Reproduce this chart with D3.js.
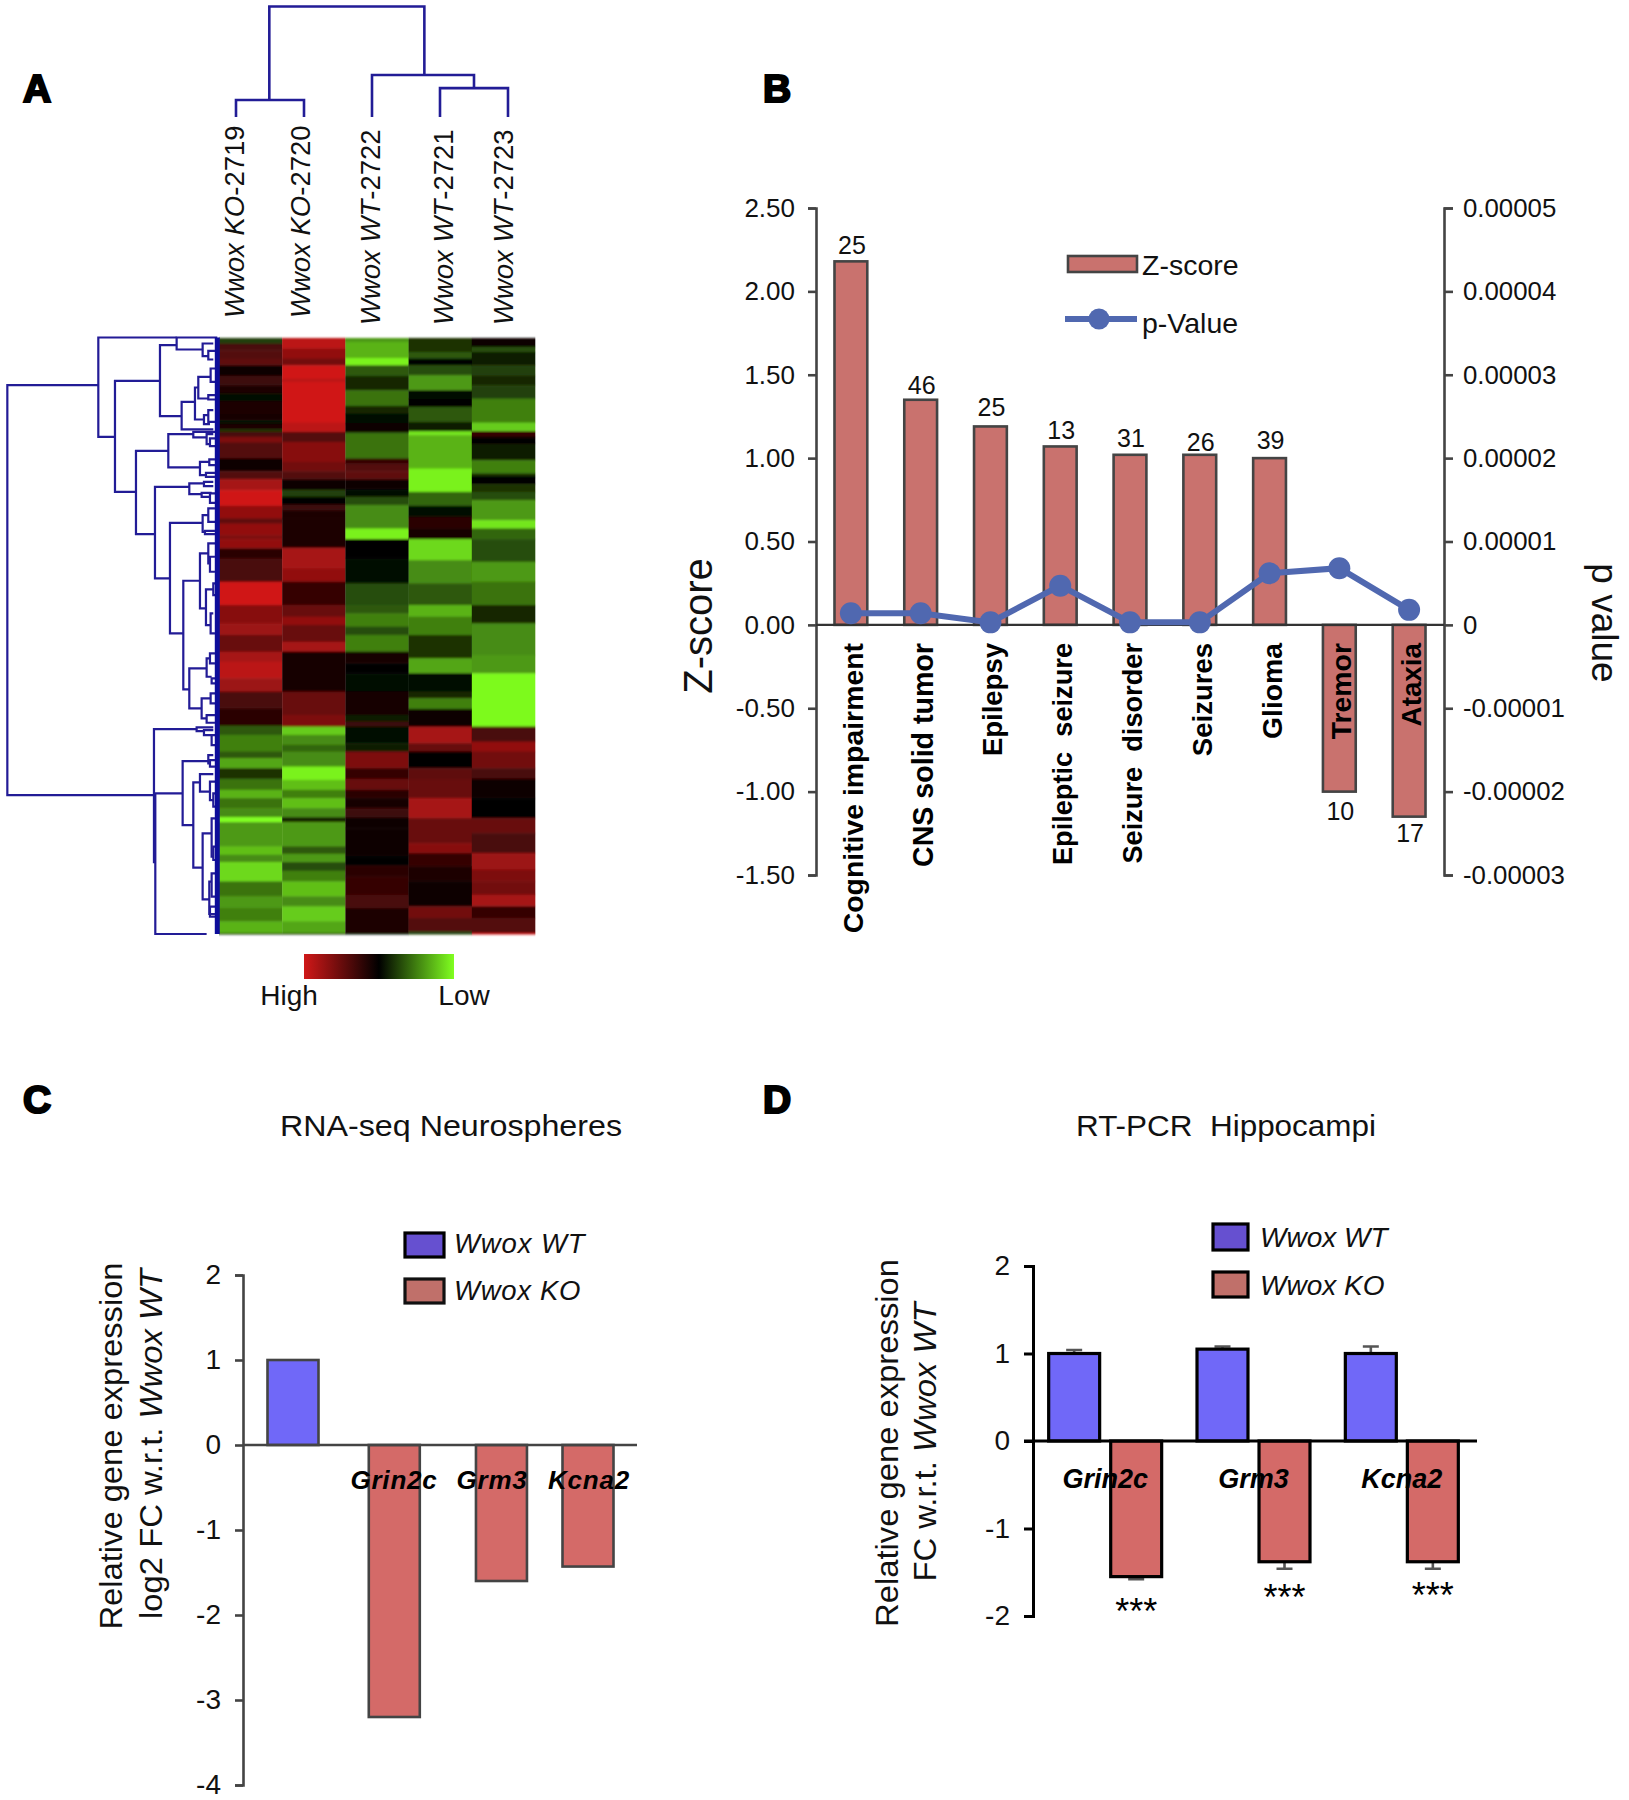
<!DOCTYPE html>
<html><head><meta charset="utf-8">
<script src="https://cdn.jsdelivr.net/npm/d3@7"></script>
<style>
html,body{margin:0;padding:0;background:#fff}
svg{display:block}
text{font-family:"Liberation Sans",Arial,sans-serif;fill:#111}
</style></head><body>
<svg id="c" width="1629" height="1800"></svg>
<script>
// ---------- Panel A data ----------
const sampleNames = [["Wwox"," KO","-2719"],["Wwox"," KO","-2720"],["Wwox"," WT","-2722"],["Wwox"," WT","-2721"],["Wwox"," WT","-2723"]];
// run-length expression values for each sample: [last row of band, value]
const heatKO2719 = [[25,-.25],[45,.35],[70,.4],[90,.45],[122,.08],[150,.3],[175,.15],[197,-.05],[235,.15],[255,.1],[265,-.05],[282,.15],[290,-.2],[305,.35],[322,.6],[370,.4],[408,.04],[432,.4],[465,.8],[512,1],[550,.7],[565,.45],[600,.7],[612,.6],[640,.7],[670,.2],[695,.35],[740,.35],[810,1],[865,.65],[900,.75],[950,.5],[980,.8],[1030,.9],[1070,.75],[1120,.35],[1172,.2],[1200,-.35],[1250,-.5],[1270,-.35],[1300,-.65],[1332,-.2],[1365,-.45],[1390,-.7],[1420,-.45],[1447,-.55],[1462,-1],[1535,-.6],[1560,-.75],[1582,-.55],[1640,-.85],[1685,-.45],[1720,-.6],[1760,-.5],[1795,-.7],[1798,-.2]];
const heatKO2720 = [[40,.9],[70,.7],[90,.55],[130,1],[140,.9],[262,1],[290,.9],[320,.4],[380,.65],[408,.55],[432,.4],[465,.05],[485,-.25],[508,-.02],[525,.3],[550,.15],[638,.15],[700,.8],[740,.7],[810,.25],[845,.5],[870,.7],[920,.5],[950,.8],[1070,.12],[1140,.5],[1175,.6],[1200,-.8],[1230,-.55],[1250,-.4],[1295,-.55],[1335,-.95],[1365,-.75],[1390,-.5],[1420,-.75],[1447,-.55],[1462,-.15],[1535,-.6],[1557,-.35],[1582,-.6],[1608,-.3],[1640,-.5],[1685,-.75],[1715,-.55],[1760,-.8],[1795,-.65],[1798,-.2]];
const heatWT2722 = [[20,-.6],[68,-.7],[90,-.95],[122,-.35],[165,-.15],[212,-.45],[235,-.15],[265,-.03],[292,.08],[370,-.45],[385,.25],[408,.4],[432,.45],[462,.08],[485,-.03],[510,-.3],[580,-.55],[612,-.95],[670,.02],[745,-.04],[810,-.3],[835,-.35],[875,-.5],[900,-.3],[950,-.5],[985,.12],[1015,.01],[1070,-.03],[1140,.12],[1160,-.1],[1175,.3],[1225,-.03],[1250,-.12],[1300,.6],[1332,.25],[1365,.5],[1390,.2],[1420,.1],[1447,.3],[1480,.07],[1565,.04],[1592,.03],[1625,.2],[1680,.25],[1720,.35],[1795,.15],[1798,-.1]];
const heatWT2721 = [[50,-.2],[70,-.35],[90,0],[120,-.3],[165,-.6],[190,-.05],[215,-.02],[260,-.35],[288,-.1],[300,-.9],[400,-.7],[470,-.95],[512,-.4],[545,-.03],[580,.2],[612,.1],[675,-.85],[745,-.55],[810,-.35],[845,-.7],[900,-.5],[970,-.2],[1015,-.65],[1070,-.03],[1090,-.15],[1122,-.5],[1175,.04],[1225,.8],[1250,.5],[1300,.02],[1332,.45],[1390,.5],[1450,.8],[1525,.5],[1555,.65],[1595,.25],[1640,.15],[1715,.04],[1750,.55],[1790,.4],[1798,-.25]];
const heatWT2723 = [[35,.08],[50,-.3],[90,-.1],[120,-.25],[150,-.15],[190,-.25],[262,-.5],[288,-.8],[305,.25],[325,.03],[375,-.1],[415,-.5],[425,-.15],[447,.03],[470,-.2],[495,-.3],[555,-.6],[580,-.9],[612,-.4],[680,-.3],[740,-.6],[810,-.45],[865,-.15],[960,-.55],[1015,-.6],[1175,-.98],[1220,.35],[1250,.7],[1300,.55],[1332,.35],[1390,.05],[1450,.02],[1495,.5],[1555,.35],[1605,.75],[1640,.6],[1680,.55],[1715,.8],[1750,.25],[1795,.4],[1798,1]];
const heatColumns = [heatKO2719, heatKO2720, heatWT2722, heatWT2721, heatWT2723];
// row dendrogram merges: [bar depth, upper row, upper child depth, lower row, lower child depth]
const rowMerges = [[22,165,295,1395,462],[295,22,530,320,345],[345,152,480,485,408],[480,45,530,258,545],[530,22,652,58,608],[608,40,640,78,625],[625,62,645,88,640],[545,215,585,298,640],[585,172,595,268,612],[595,140,632,205,625],[632,115,652,155,652],[625,195,645,208,645],[612,255,625,282,630],[625,240,640,275,645],[408,362,505,612,465],[505,312,580,412,600],[580,305,652,322,620],[620,312,640,342,630],[630,325,650,348,650],[600,395,628,435,618],[628,388,645,405,645],[618,428,645,440,645],[465,470,568,745,510],[568,460,612,492,605],[612,455,640,468,640],[605,488,635,500,630],[630,490,650,518,650],[510,578,608,910,550],[608,555,625,605,615],[625,535,645,575,650],[615,602,645,612,645],[550,752,600,1078,568],[600,670,625,835,618],[625,640,650,700,630],[630,680,645,725,645],[618,778,640,885,632],[640,760,650,795,650],[632,850,640,910,645],[568,1015,620,1135,605],[620,985,630,1040,635],[630,970,645,1000,645],[635,1045,650,1060,650],[605,1105,632,1165,620],[632,1090,650,1120,650],[620,1155,645,1178,645],[462,1197,590,1600,462],[466,1390,548,1812,620],[590,1192,640,1203,612],[612,1200,640,1215,635],[635,1215,650,1245,650],[548,1293,625,1485,580],[625,1275,640,1300,630],[630,1290,645,1310,645],[580,1357,600,1613,608],[600,1332,640,1385,630],[630,1355,650,1410,640],[640,1390,650,1430,650],[608,1510,635,1708,628],[635,1465,645,1580,640],[640,1550,650,1590,650],[628,1655,635,1752,645],[635,1630,650,1700,650],[630,1730,650,1760,650]];
// column dendrogram: [bar height, left sample slot, left child height, right sample slot, right child height]
const colMerges = [[0.995,0.49,0.153,2.77,0.378],[0.153,0,0,1,0],[0.378,2,0,3.5,0.26],[0.26,3,0,4,0]];
const legendLabels = ["High","Low"];

// ---------- Panel B data ----------
const bCategories = ["Cognitive impairment","CNS solid tumor","Epilepsy","Epileptic\u00a0\u00a0seizure","Seizure\u00a0\u00a0disorder","Seizures","Glioma","Tremor","Ataxia"];
const bZScores = [2.18,1.35,1.19,1.07,1.02,1.02,1.00,-1.00,-1.15];
const bPValues = [0.0000014,0.0000014,0.0000003,0.0000047,0.0000003,0.0000003,0.0000062,0.0000068,0.0000018];
const bCounts = [25,46,25,13,31,26,39,10,17];
const bLeftTicks = [2.5,2,1.5,1,0.5,0,-0.5,-1,-1.5];
const bRightTicks = ["0.00005","0.00004","0.00003","0.00002","0.00001","0","-0.00001","-0.00002","-0.00003"];

// ---------- Panel C data ----------
const cGenes = ["WT","Grin2c","Grm3","Kcna2"];
const cSlots = [0,1.03,2.12,3];
const cValues = [1,-3.2,-1.6,-1.43];
const cTicks = [2,1,0,-1,-2,-3,-4];

// ---------- Panel D data ----------
const dGenes = ["Grin2c","Grm3","Kcna2"];
const dWT = [1,1.05,1];
const dWTErr = [0.04,0.03,0.08];
const dKO = [-1.55,-1.38,-1.38];
const dKOErr = [0.03,0.08,0.08];
const dTicks = [2,1,0,-1,-2];
const dStars = ["***","***","***"];

const RED="#d01818", GREEN="#80ff20", NAVY="#231b96";
const hy = f => s => f(s).replace("\u2212","-");
const svg = d3.select("#c");
const defs = svg.append("defs");
defs.append("filter").attr("id","soft").attr("x","-2%").attr("y","-2%").attr("width","104%").attr("height","104%")
  .append("feGaussianBlur").attr("stdDeviation","0.5 1.3");
defs.append("filter").attr("id","soft2").attr("x","-2%").attr("y","-2%").attr("width","104%").attr("height","104%")
  .append("feGaussianBlur").attr("stdDeviation","0.45");

function label(x,y,parts,o={}){
  const t = svg.append("text").attr("text-anchor",o.anchor||"start")
    .attr("font-size",o.size||24).attr("font-weight",o.weight||"normal")
    .attr("transform",`translate(${x},${y}) rotate(${o.rot||0})`)
    .style("white-space","pre");
  if(o.fill) t.style("fill",o.fill);
  if(o.spacing!==undefined) t.style("letter-spacing",o.spacing+"px");
  if(o.len) t.attr("textLength",o.len).attr("lengthAdjust","spacingAndGlyphs");
  (Array.isArray(parts)?parts:[[parts,o.italic]]).forEach(p=>{
    const s=Array.isArray(p)?p:[p,false];
    t.append("tspan").text(s[0]).attr("font-style",s[1]?"italic":"normal");
  });
  return t;
}
[["A",23,102],["B",763,102],["C",23,1113],["D",763,1113]].forEach(d=>{
  label(d[1],d[2],d[0],{size:39,weight:"bold"}).style("fill","#000").style("stroke","#000").style("stroke-width",2.2);
});

// ---------- Panel A ----------
const heatX = d3.scaleBand().domain(d3.range(5)).range([219,535]);
const heatY = d3.scaleLinear().domain([8,1798]).range([338,934]);
const heatColor = d3.scaleLinear().domain([-1,0,1]).range([GREEN,"#000",RED]);
const heatG = svg.append("g").attr("filter","url(#soft)");
heatColumns.forEach((col,i)=>{
  let prev=8;
  col.forEach(([end,v])=>{
    heatG.append("rect").attr("x",heatX(i)).attr("width",heatX.bandwidth()+.3)
      .attr("y",heatY(prev)).attr("height",heatY(end)-heatY(prev)+.5).attr("fill",heatColor(v));
    prev=end;
  });
});
const dX = d3.scaleLinear().domain([0,652]).range([0,217.3]);
const dY = d3.scaleLinear().domain([22,1812]).range([337.5,934]);
const dG = svg.append("g").attr("fill","none").attr("stroke",NAVY).attr("stroke-width",2.2).attr("filter","url(#soft2)");
dG.selectAll("path").data(rowMerges).join("path")
  .attr("d",([h,y1,c1,y2,c2])=>`M${dX(c1)},${dY(y1)}H${dX(h)}V${dY(y2)}H${dX(c2)}`);
dG.append("line").attr("x1",dX(652)).attr("x2",dX(652)).attr("y1",dY(22)).attr("y2",dY(1812)).attr("stroke","#0d0d9a").attr("stroke-width",5);

const colSlot = d3.scaleLinear().domain([0,1]).range([236,304]);
const colH = d3.scaleLinear().domain([0,1]).range([117,6]);
const cdG = svg.append("g").attr("fill","none").attr("stroke",NAVY).attr("stroke-width",2.6).attr("filter","url(#soft2)");
cdG.selectAll("path").data(colMerges).join("path")
  .attr("d",([h,a,ha,b,hb])=>`M${colSlot(a)},${colH(ha)}V${colH(h)}H${colSlot(b)}V${colH(hb)}`);
const sampleX=[244,310,380,453,513], sampleY=[318,318,325,325,325];
sampleNames.forEach((s,i)=>{
  label(sampleX[i],sampleY[i],[[s[0]+s[1],true],[s[2],false]],{size:27.5,rot:-90});
});
// colour bar
const grad = defs.append("linearGradient").attr("id","cbar");
grad.selectAll("stop").data(d3.range(1,-1.01,-0.25)).join("stop")
  .attr("offset",d=>(1-d)/2).attr("stop-color",d=>heatColor(d));
svg.append("rect").attr("x",304).attr("y",954).attr("width",150).attr("height",25).attr("fill","url(#cbar)");
label(289,1005,legendLabels[0],{size:28,anchor:"middle"});
label(464,1005,legendLabels[1],{size:28,anchor:"middle"});

// ---------- axis helper ----------
function styleAxis(g,color,w,size){
  g.select(".domain").attr("stroke",color).attr("stroke-width",w);
  g.selectAll(".tick line").attr("stroke",color).attr("stroke-width",w);
  g.selectAll(".tick text").attr("font-size",size).attr("font-family",'"Liberation Sans"').style("fill","#111");
  return g;
}
function bar(g,x,w,y0,yv,fill,stroke,sw){
  g.append("rect").attr("x",x).attr("width",w).attr("y",Math.min(y0,yv)).attr("height",Math.abs(yv-y0))
   .attr("fill",fill).attr("stroke",stroke).attr("stroke-width",sw);
}

// ---------- Panel B ----------
const bx = d3.scaleBand().domain(bCategories).range([816,1444]).paddingInner(0.53).paddingOuter(0.265);
const by = d3.scaleLinear().domain([-1.5,2.5]).range([875,208]);
const byR = d3.scaleLinear().domain([-0.00003,0.00005]).range([875,208]);
const gB = svg.append("g");
bCategories.forEach((c,i)=>bar(gB,bx(c),bx.bandwidth(),by(0),by(bZScores[i]),"#c9726e","#444",2.6));
const axL = svg.append("g").attr("transform","translate(816,0)")
  .call(d3.axisLeft(by).tickValues(bLeftTicks).tickSize(8).tickPadding(13).tickSizeOuter(8).tickFormat(hy(d3.format(".2f"))));
styleAxis(axL,"#444",2.6,26);
const axR = svg.append("g").attr("transform","translate(1444,0)")
  .call(d3.axisRight(byR).tickValues(bRightTicks.map(Number)).tickSize(9).tickPadding(10).tickSizeOuter(9).tickFormat((d,i)=>bRightTicks[i]));
styleAxis(axR,"#444",2.6,25.8);
svg.append("line").attr("x1",816).attr("x2",1444).attr("y1",by(0)).attr("y2",by(0)).attr("stroke","#333").attr("stroke-width",2.4);
const cx = c=>bx(c)+bx.bandwidth()/2;
svg.append("path").datum(bPValues)
  .attr("d",d3.line().x((d,i)=>cx(bCategories[i])).y(d=>byR(d)))
  .attr("fill","none").attr("stroke","#5068b0").attr("stroke-width",6);
svg.selectAll(".pt").data(bPValues).join("circle").attr("class","pt")
  .attr("cx",(d,i)=>cx(bCategories[i])).attr("cy",d=>byR(d)).attr("r",11).attr("fill","#5068b0");
const countShift=[-7,-6,-10,-7,-8,-4,-9,28,25];
const catSize=[28.4,28.6,27.5,27.2,27.2,27.5,28.3,28.4,27.8];
bCategories.forEach((c,i)=>{
  const v=bZScores[i];
  label(cx(c)+1,by(v)+countShift[i],String(bCounts[i]),{size:25,anchor:"middle"});
  label(cx(c)+12,643,c,{size:catSize[i],weight:"bold",anchor:"end",rot:-90}).style("fill","#000");
});
label(712,626,"Z-score",{size:40,anchor:"middle",rot:-90});
label(1592,623,"p value",{size:37,anchor:"middle",rot:90});
bar(svg,1068,69,256,272,"#c9726e","#444",2.6);
label(1142,275,"Z-score",{size:28.5});
svg.append("line").attr("x1",1065).attr("x2",1137).attr("y1",319).attr("y2",319).attr("stroke","#5068b0").attr("stroke-width",6);
svg.append("circle").attr("cx",1099).attr("cy",319).attr("r",10.5).attr("fill","#5068b0");
label(1142,333,"p-Value",{size:28.5});

// ---------- Panel C ----------
const cy = d3.scaleLinear().domain([-4,2]).range([1785,1275]);
const cx2 = d3.scaleLinear().domain([0,3]).range([293,588]);
cGenes.forEach((g,i)=>{
  bar(svg,cx2(cSlots[i])-25.5,51,cy(0),cy(cValues[i]),i?"#d46a68":"#7068f8","#444",2.6);
});
const axC = svg.append("g").attr("transform","translate(243,0)")
  .call(d3.axisLeft(cy).tickValues(cTicks).tickSize(8).tickPadding(14).tickSizeOuter(8).tickFormat(hy(d3.format("d"))));
styleAxis(axC,"#444",2.6,28);
svg.append("line").attr("x1",243).attr("x2",637).attr("y1",cy(0)).attr("y2",cy(0)).attr("stroke","#444").attr("stroke-width",2.4);
cGenes.slice(1).forEach((g,i)=>{
  label([394,492,589][i],1489,g,{size:26,weight:"bold",italic:true,anchor:"middle",spacing:0.8}).style("fill","#000");
});
label(451,1136,"RNA-seq Neurospheres",{size:30,anchor:"middle",len:342});
label(122,1446,"Relative gene expression",{size:32,anchor:"middle",rot:-90,len:367});
label(162,1444,[["log2 FC w.r.t. ",false],["Wwox WT",true]],{size:31,anchor:"middle",rot:-90,len:350});
bar(svg,405,39,1233,1257,"#6650d0","#000",3.2);
bar(svg,405,39,1279,1303,"#c0706a","#111",3.2);
label(454,1253,"Wwox WT",{size:27.5,italic:true,spacing:.9});
label(454,1300,"Wwox KO",{size:27.5,italic:true,spacing:.7});

// ---------- Panel D ----------
const dy = d3.scaleLinear().domain([-2,2]).range([1616,1266]);
const dx0 = d3.scaleBand().domain(dGenes).range([1031,1476]);
const dx1 = d3.scaleBand().domain(["WT","KO"]).range([0,dx0.bandwidth()]).paddingInner(0.178).paddingOuter(0.285);
const starShift=[45,41,39];
const errBar=(x,from,to)=>{
  svg.append("path").attr("d",`M${x},${from}V${to}M${x-8},${to}H${x+8}`).attr("stroke","#555").attr("stroke-width",2.6).attr("fill","none");
};
dGenes.forEach((g,i)=>{
  const wx=dx0(g)+dx1("WT"), kx=dx0(g)+dx1("KO"), w=dx1.bandwidth();
  errBar(wx+w/2,dy(dWT[i]),dy(dWT[i]+dWTErr[i]));
  errBar(kx+w/2,dy(dKO[i]),dy(dKO[i]-dKOErr[i]));
  bar(svg,wx,w,dy(0),dy(dWT[i]),"#7068f8","#000",3.2);
  bar(svg,kx,w,dy(0),dy(dKO[i]),"#d46a68","#000",3.2);
  label(dx0(g)+dx0.bandwidth()/2,1488,g,{size:27,weight:"bold",italic:true,anchor:"middle"}).style("fill","#000");
  label(kx+w/2,dy(dKO[i]-dKOErr[i])+starShift[i],dStars[i],{size:36,anchor:"middle"}).style("fill","#000");
});
const axD = svg.append("g").attr("transform","translate(1033,0)")
  .call(d3.axisLeft(dy).tickValues(dTicks).tickSize(9).tickPadding(14).tickSizeOuter(9).tickFormat(hy(d3.format("d"))));
styleAxis(axD,"#000",3,28);
svg.append("line").attr("x1",1024).attr("x2",1477).attr("y1",dy(0)).attr("y2",dy(0)).attr("stroke","#000").attr("stroke-width",3);
label(1226,1136,"RT-PCR\u00a0\u00a0Hippocampi",{size:29.5,anchor:"middle",len:300});
label(898,1443,"Relative gene expression",{size:32,anchor:"middle",rot:-90,len:368});
label(936,1442,[["FC w.r.t. ",false],["Wwox WT",true]],{size:31,anchor:"middle",rot:-90,len:279});
bar(svg,1213,35,1224,1250,"#6650d0","#000",3.2);
bar(svg,1213,35,1272,1297,"#c0706a","#000",3.2);
label(1260,1247,"Wwox WT",{size:28,italic:true});
label(1260,1295,"Wwox KO",{size:28,italic:true});
</script>
</body></html>
